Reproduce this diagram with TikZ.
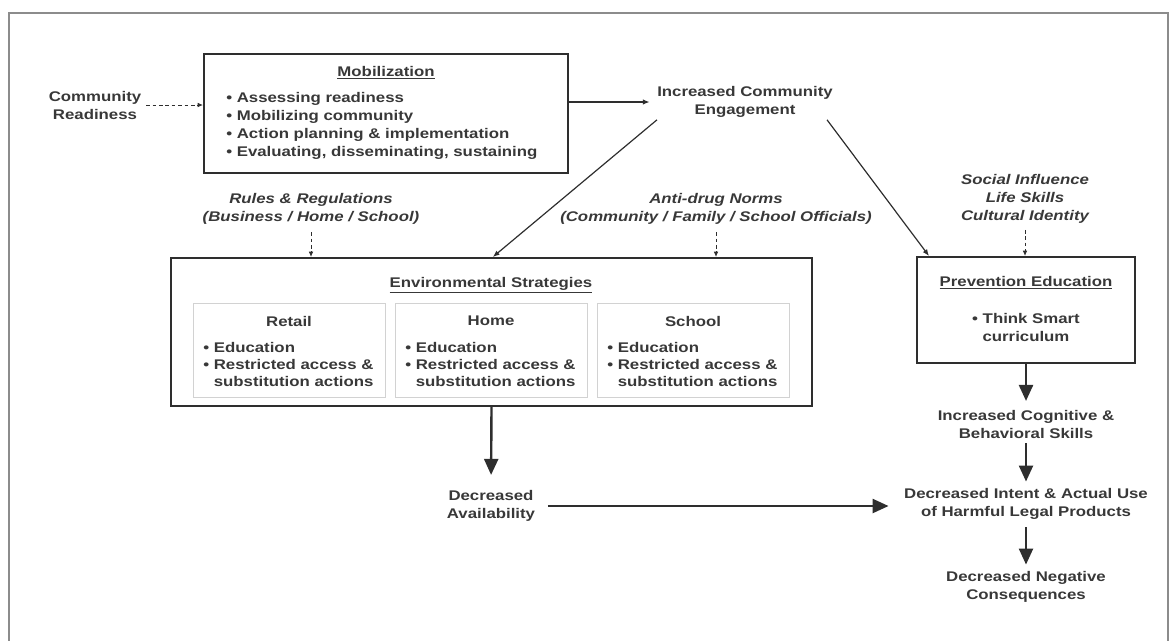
\documentclass[tikz,border=0pt]{standalone}
\usepackage{fontspec}
\setmainfont[FakeStretch=1.2]{Liberation Sans}
\usetikzlibrary{arrows.meta}
\definecolor{rahmengrau}{HTML}{8C8C8C}
\definecolor{textgrau}{HTML}{383838}
\definecolor{liniengrau}{HTML}{2E2E2E}
\definecolor{boxgrau}{HTML}{D2D2D2}
\newcommand{\pkt}{\textbullet\ }
\newcommand{\einzug}{\phantom{\textbullet\ }}

\begin{document}
\begin{tikzpicture}[x=0.75pt, y=-0.75pt,
    txt/.style={font=\bfseries\fontsize{10.5}{13.5}\selectfont, text=textgrau, align=center, inner sep=1.5pt},
    kursiv/.style={txt, font=\bfseries\itshape\fontsize{10.5}{13.5}\selectfont},
    liste/.style={txt, align=left, anchor=west},
    kasten/.style={draw=liniengrau, line width=1.5pt, inner sep=0pt},
    teilkasten/.style={draw=boxgrau, line width=0.6pt, inner sep=0pt, minimum width=144pt, minimum height=70.5pt},
    pfeil/.style={draw=liniengrau, line width=0.9pt, -{Latex[length=5pt,width=4pt]}},
    strich/.style={draw=liniengrau, line width=0.7pt, dash pattern=on 2.8pt off 2pt, -{Latex[length=4pt,width=3.5pt]}},
    dickpfeil/.style={draw=liniengrau, line width=1.8pt, -{Triangle[length=12pt,width=10.5pt]}}]
        \useasboundingbox (0,0) rectangle (1176,640);
        % Rahmen
        \draw[rahmengrau, line width=0.8pt] (9,660) -- (9,13) -- (1168,13) -- (1168,660);
        % Mobilisierung
        \node[kasten, minimum width=273pt, minimum height=89.25pt] (mob) at (386,113.5) {};
        \node[txt] (mobtitel) at (386,73) {\underline{Mobilization}};
        \node[liste] (mobliste) at (224,126) {\pkt Assessing readiness\\ \pkt Mobilizing community\\
            \pkt Action planning \& implementation\\ \pkt Evaluating, disseminating, sustaining};
        \node[txt] (bereit) at (95,105) {Community\\Readiness};
        \node[txt] (engage) at (745,102) {Increased Community\\Engagement};
        % Einflussfaktoren
        \node[kursiv] (regeln) at (311,209) {Rules \& Regulations\\(Business / Home / School)};
        \node[kursiv] (normen) at (716,209) {Anti-drug Norms\\(Community / Family / School Officials)};
        \node[kursiv] (einfluss) at (1025,199) {Social Influence\\Life Skills\\Cultural Identity};
        % Umweltstrategien
        \node[kasten, minimum width=480.75pt, minimum height=111pt] (env) at (491.5,332) {};
        \node[txt] (envtitel) at (491,285) {\underline{Environmental Strategies}};
        \foreach \name/\x/\titel in {retail/289/Retail, home/491/Home, school/693/School}{
            \node[teilkasten] (\name) at (\x,350) {};
            \node[txt] at (\x,321) {\titel};
            \node[liste, font=\bfseries\fontsize{10.5}{12.75}\selectfont] at (\x-88,364)
                {\pkt Education\\ \pkt Restricted access \&\\ \einzug substitution actions};
        }
        \node[txt] (avail) at (491,506) {Decreased\\Availability};
        % Praeventionsunterricht
        \node[kasten, minimum width=163.5pt, minimum height=79.5pt] (prev) at (1026,310) {};
        \node[txt] (prevtitel) at (1026,283) {\underline{Prevention Education}};
        \node[txt] (prevliste) at (1026,327) {\pkt Think Smart\\curriculum};
        \node[txt] (kognitiv) at (1026,424) {Increased Cognitive \&\\Behavioral Skills};
        \node[txt] (konsum) at (1026,504) {Decreased Intent \& Actual Use\\of Harmful Legal Products};
        \node[txt] (folgen) at (1026,587) {Decreased Negative\\Consequences};
        % duenne Pfeile
        \draw[strich, shorten <=2pt] (bereit.east) -- (bereit.east -| mob.west);
        \draw[pfeil, shorten >=4pt] (mob.east |- engage.west) -- (engage.west);
        \draw[pfeil] ([xshift=1.5pt]engage.south west) -- ([xshift=1pt]env.north);
        \draw[pfeil] ([xshift=-6pt]engage.south east) -- ([xshift=9.75pt]prev.north west);
        \draw[strich, shorten <=4pt] (regeln.south) -- (regeln.south |- env.north);
        \draw[strich, shorten <=4pt] (normen.south) -- (normen.south |- env.north);
        \draw[strich, shorten <=3pt] (einfluss.south) -- (einfluss.south |- prev.north);
        % dicke Pfeile
        \draw[dickpfeil, shorten >=10pt] (env.south) -- (avail.north);
        \draw[dickpfeil, shorten <=8pt, shorten >=10pt] (avail.east) -- (avail.east -| konsum.west);
        \draw[dickpfeil, shorten >=5pt] (prev.south) -- (kognitiv.north);
        \draw[dickpfeil, shorten <=2pt, shorten >=3.5pt] (kognitiv.south) -- (konsum.north);
        \draw[dickpfeil, shorten <=4pt, shorten >=3.5pt] (konsum.south) -- (folgen.north);
\end{tikzpicture}
\end{document}
